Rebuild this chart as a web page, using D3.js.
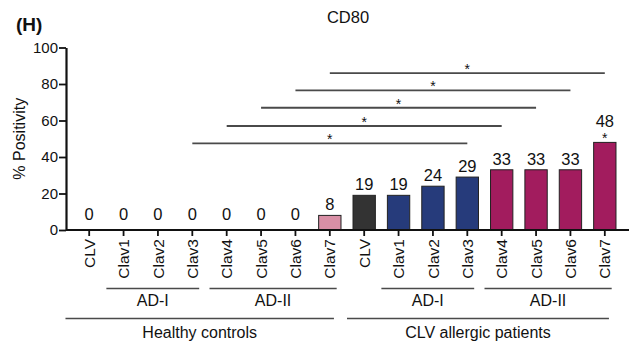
<!DOCTYPE html>
<html>
<head>
<meta charset="utf-8">
<script src="https://cdn.jsdelivr.net/npm/d3@7"></script>
<style>
  body { margin: 0; background: #fff; }
  svg text { font-family: Arial, "Liberation Sans", sans-serif; fill: #111; }
</style>
</head>
<body>
<svg id="chart" width="636" height="345"></svg>
<script>
// chart values
var labels = ["CLV", "Clav1", "Clav2", "Clav3", "Clav4", "Clav5", "Clav6", "Clav7",
              "CLV", "Clav1", "Clav2", "Clav3", "Clav4", "Clav5", "Clav6", "Clav7"];
var values = [0, 0, 0, 0, 0, 0, 0, 8, 19, 19, 24, 29, 33, 33, 33, 48];
var groups = ["h", "h", "h", "h", "h", "h", "h", "h7", "pc", "p1", "p1", "p1", "p2", "p2", "p2", "p2"];
var yTicks = [0, 20, 40, 60, 80, 100];

// significance brackets: from bar index, to bar index, height (%)
var sigFrom = [7, 6, 5, 4, 3];
var sigTo = [15, 14, 13, 12, 11];
var sigLevel = [86, 76.5, 67, 57, 47.5];

// sub groups under the axis
var subLabels = ["AD-I", "AD-II", "AD-I", "AD-II"];
var subFrom = [1, 4, 9, 12];
var subTo = [3, 7, 11, 15];
var mainLabels = ["Healthy controls", "CLV allergic patients"];
var mainFrom = [0, 8];
var mainTo = [7, 15];

var colors = { h: "#ffffff", h7: "#d98fa6", pc: "#333333", p1: "#263b7b", p2: "#a21c5e" };

var svg = d3.select("#chart");

var x = d3.scaleBand()
    .domain(d3.range(labels.length))
    .range([72, 622])
    .paddingInner(0.35)
    .paddingOuter(0.175);

var y = d3.scaleLinear()
    .domain([0, 100])
    .range([230, 47.5]);

var cx = function(i) { return x(i) + x.bandwidth() / 2; };

// bars (zero values draw nothing)
svg.append("g")
    .selectAll("rect")
    .data(d3.range(values.length).filter(function(i) { return values[i] > 0; }))
    .enter()
    .append("rect")
    .attr("x", function(i) { return x(i); })
    .attr("y", function(i) { return y(values[i]); })
    .attr("width", x.bandwidth())
    .attr("height", function(i) { return y(0) - y(values[i]); })
    .attr("fill", function(i) { return colors[groups[i]]; })
    .attr("stroke", "#222")
    .attr("stroke-width", 1);

// value labels
svg.append("g")
    .selectAll("text")
    .data(values)
    .enter()
    .append("text")
    .attr("x", function(d, i) { return cx(i); })
    .attr("y", function(d, i) {
        if (d === 0) return y(0) - 10;
        return i === 15 ? y(d) - 15 : y(d) - 5;
    })
    .attr("text-anchor", "middle")
    .style("font-size", "16.5px")
    .text(function(d) { return d; });

// y axis
var yAxis = svg.append("g")
    .attr("transform", "translate(66,0)")
    .call(d3.axisLeft(y).tickValues(yTicks).tickSize(7).tickSizeOuter(0));
yAxis.select(".domain").attr("stroke", "#111").attr("stroke-width", 2.2);
yAxis.selectAll(".tick line").attr("stroke", "#111").attr("stroke-width", 1.8);
yAxis.selectAll(".tick text")
    .attr("x", -8)
    .style("font-size", "15px")
    .attr("fill", "#111");

// x axis
var xAxis = svg.append("g")
    .attr("transform", "translate(0," + y(0) + ")")
    .call(d3.axisBottom(x).tickFormat(function(i) { return labels[i]; }).tickSize(6).tickSizeOuter(0));
xAxis.select(".domain").attr("d", "M66,0H629").attr("stroke", "#111").attr("stroke-width", 2.2);
xAxis.selectAll(".tick line").attr("stroke", "#111").attr("stroke-width", 1.8);
xAxis.selectAll(".tick text")
    .attr("transform", "rotate(-90)")
    .attr("x", -9)
    .attr("y", 0)
    .attr("dy", "0.36em")
    .attr("text-anchor", "end")
    .style("font-size", "15.5px")
    .attr("fill", "#111");

// significance brackets
var sig = svg.append("g");
sigFrom.forEach(function(f, k) {
    var yy = y(sigLevel[k]);
    sig.append("line")
        .attr("x1", cx(f)).attr("x2", cx(sigTo[k]))
        .attr("y1", yy).attr("y2", yy)
        .attr("stroke", "#4a4a4a").attr("stroke-width", 1.8);
    sig.append("text")
        .attr("x", (cx(f) + cx(sigTo[k])) / 2)
        .attr("y", yy + 1)
        .attr("text-anchor", "middle")
        .style("font-size", "14px")
        .text("*");
});
// star over the last bar
svg.append("text")
    .attr("x", cx(15))
    .attr("y", y(values[15]) + 1)
    .attr("text-anchor", "middle")
    .style("font-size", "14px")
    .text("*");

// group brackets under the axis
var step = x.step();
var sub = svg.append("g");
subLabels.forEach(function(l, k) {
    var x1 = cx(subFrom[k]) - 0.5 * step, x2 = cx(subTo[k]) + 0.2 * step;
    sub.append("line")
        .attr("x1", x1).attr("x2", x2)
        .attr("y1", 288.5).attr("y2", 288.5)
        .attr("stroke", "#4a4a4a").attr("stroke-width", 1.6);
    sub.append("text")
        .attr("x", (x1 + x2) / 2)
        .attr("y", 306)
        .attr("text-anchor", "middle")
        .style("font-size", "16px")
        .text(l);
});
mainLabels.forEach(function(l, k) {
    var x1 = cx(mainFrom[k]) - (k === 0 ? 0.69 : 0.5) * step, x2 = cx(mainTo[k]) + 0.12 * step;
    sub.append("line")
        .attr("x1", x1).attr("x2", x2)
        .attr("y1", 318.5).attr("y2", 318.5)
        .attr("stroke", "#4a4a4a").attr("stroke-width", 1.6);
    sub.append("text")
        .attr("x", (x1 + x2) / 2)
        .attr("y", 338)
        .attr("text-anchor", "middle")
        .style("font-size", "16px")
        .text(l);
});

// y label
svg.append("text")
    .attr("transform", "translate(25," + y(50) + ") rotate(-90)")
    .attr("text-anchor", "middle")
    .style("font-size", "16px")
    .text("% Positivity");

// title
svg.append("text")
    .attr("x", 348)
    .attr("y", 23)
    .attr("text-anchor", "middle")
    .style("font-size", "16.5px")
    .text("CD80");

svg.append("text")
    .attr("x", 16)
    .attr("y", 31)
    .style("font-size", "19px")
    .style("font-weight", "bold")
    .text("(H)");
</script>
</body>
</html>
